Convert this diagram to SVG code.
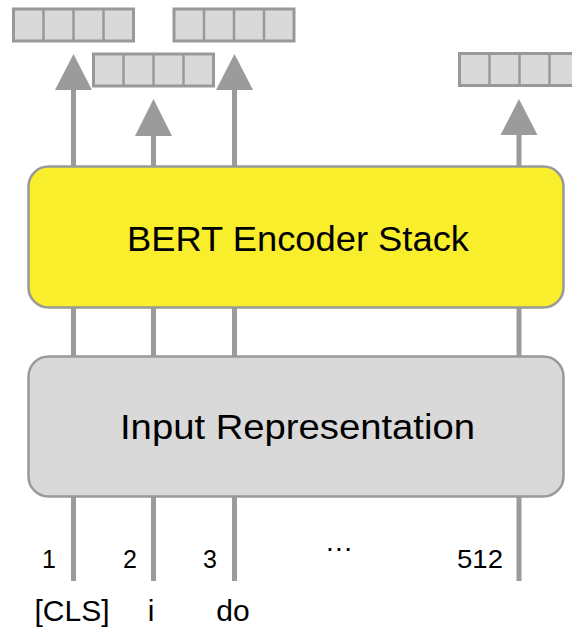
<svg xmlns="http://www.w3.org/2000/svg" width="572" height="631" viewBox="0 0 572 631">
  <style>
    .box { stroke: #999999; stroke-width: 2.5; }
    .wire { stroke: #9b9b9b; stroke-width: 5; fill: none; }
    .head { fill: #9b9b9b; }
    .vec { fill: #d9d9d9; stroke: #999999; stroke-width: 3; }
    .cell { stroke: #999999; stroke-width: 2.5; }
    .title { font-family: "Liberation Sans", Arial, sans-serif; font-size: 35.5px; fill: #000; text-anchor: middle; }
    .pos { font-family: "Liberation Sans", Arial, sans-serif; font-size: 25px; fill: #000; text-anchor: middle; }
    .dots { font-family: "Liberation Sans", Arial, sans-serif; font-size: 28px; fill: #000; text-anchor: middle; }
    .tok { font-family: "Liberation Sans", Arial, sans-serif; font-size: 30px; fill: #000; text-anchor: middle; }
  </style>
  <defs>
    <g id="vector4">
      <rect class="vec" x="0" y="0" width="120" height="32"/>
      <line class="cell" x1="30" y1="0" x2="30" y2="32"/>
      <line class="cell" x1="60" y1="0" x2="60" y2="32"/>
      <line class="cell" x1="90" y1="0" x2="90" y2="32"/>
    </g>
  </defs>

  <rect width="572" height="631" fill="#ffffff"/>

  <!-- connectors: token wires and output arrows -->
  <g id="connectors">
    <line class="wire" x1="73.5" y1="88" x2="73.5" y2="581"/>
    <line class="wire" x1="153.5" y1="134" x2="153.5" y2="581"/>
    <line class="wire" x1="234.5" y1="88" x2="234.5" y2="581"/>
    <line class="wire" x1="519" y1="133" x2="519" y2="581"/>
    <polygon class="head" points="73.5,54 55,90 92,90"/>
    <polygon class="head" points="153.5,99 135,136 172,136"/>
    <polygon class="head" points="234.5,54 216,90 253,90"/>
    <polygon class="head" points="519,99 500.5,135 537.5,135"/>
  </g>

  <!-- output vectors -->
  <g id="out-cls"><use href="#vector4" x="13.5" y="9"/></g>
  <g id="out-i"><use href="#vector4" x="93.5" y="54"/></g>
  <g id="out-do"><use href="#vector4" x="174" y="9"/></g>
  <g id="out-512"><use href="#vector4" x="459.5" y="53.5"/></g>

  <g id="encoder">
    <rect class="box" x="28.5" y="166.5" width="535" height="141" rx="20" fill="#f8ee2c"/>
    <text class="title" x="298" y="251" textLength="342" lengthAdjust="spacingAndGlyphs">BERT Encoder Stack</text>
  </g>

  <g id="input-representation">
    <rect class="box" x="28.5" y="356.5" width="535" height="140" rx="20" fill="#d9d9d9"/>
    <text class="title" x="297.5" y="439" textLength="355" lengthAdjust="spacingAndGlyphs">Input Representation</text>
  </g>

  <!-- position indices -->
  <g id="positions">
    <text class="pos" x="49" y="568">1</text>
    <text class="pos" x="130" y="568">2</text>
    <text class="pos" x="210" y="568">3</text>
    <text class="dots" x="339" y="551" textLength="26" lengthAdjust="spacing">...</text>
    <text class="pos" x="480" y="568" textLength="46" lengthAdjust="spacingAndGlyphs">512</text>
  </g>

  <!-- input tokens -->
  <g id="tokens">
    <text class="tok" x="72" y="621">[CLS]</text>
    <text class="tok" x="151" y="621">i</text>
    <text class="tok" x="233" y="621">do</text>
  </g>
</svg>
